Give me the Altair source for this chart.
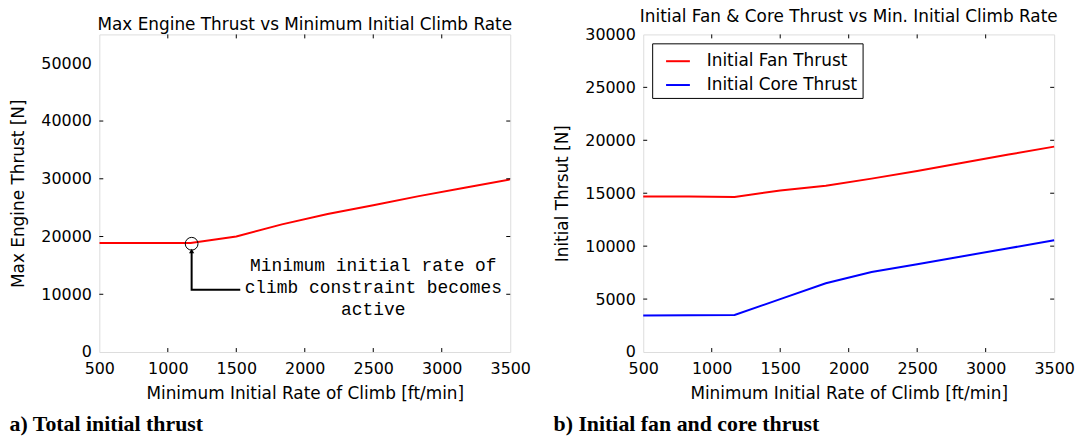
import altair as alt
import pandas as pd

# ---- data ----
climb_rate = [500, 833, 1167, 1500, 1833, 2167, 2500, 2833, 3167, 3500]
max_thrust = [18900, 18900, 18900, 20000, 22100, 23900, 25400, 27000, 28450, 29900]
fan_thrust = [14700, 14680, 14650, 15250, 15700, 16380, 17100, 17880, 18650, 19400]
core_thrust = [3440, 3470, 3500, 5000, 6500, 7550, 8300, 9050, 9800, 10550]
series_names = ["Initial Fan Thrust", "Initial Core Thrust"]
series_colors = ["#ff0000", "#0000ff"]

x_ticks = [500, 1000, 1500, 2000, 2500, 3000, 3500]
y_ticks_a = [0, 10000, 20000, 30000, 40000, 50000]
y_ticks_b = [0, 5000, 10000, 15000, 20000, 25000, 30000]

# annotation (data coordinates)
marker_x = [1174]
marker_y = [18750]
arrow_x = [1174, 1174, 1529]
arrow_y = [17300, 10800, 10800]
arrow_head_y = [17500]
note_lines = ["Minimum initial rate of", "climb constraint becomes", "active"]
note_x = [2500, 2500, 2500]
note_y = [14860, 11020, 7310]

W, H = 414, 320
FONT = "DejaVu Sans"
TICK = 4
XTITLE = "Minimum Initial Rate of Climb [ft/min]"

xscale = alt.Scale(domain=[500, 3500], nice=False, zero=False)


def axis_x():
    return alt.Axis(values=x_ticks, grid=False, ticks=False, domain=False,
                    labelFontSize=16, titleFontSize=17, labelFont=FONT, titleFont=FONT,
                    labelColor="black", titleColor="black", titleFontWeight="normal",
                    labelPadding=9, titlePadding=9, labelFlush=False, labelOverlap=False,
                    format="d")


def axis_y(vals):
    return alt.Axis(values=vals, grid=False, ticks=False, domain=False,
                    labelFontSize=16, titleFontSize=17, labelFont=FONT, titleFont=FONT,
                    labelColor="black", titleColor="black", titleFontWeight="normal",
                    labelPadding=8, titlePadding=13, labelFlush=False, labelOverlap=False,
                    format="d")


def X(field):
    return alt.X(f"{field}:Q", scale=xscale, axis=axis_x(), title=XTITLE)


def make_Y(yscale, yticks, ytitle):
    def Y(field):
        return alt.Y(f"{field}:Q", scale=yscale, axis=axis_y(yticks), title=ytitle)
    return Y


def tick_layers(Y, yticks):
    inner_x = pd.DataFrame({"t": x_ticks[1:-1]})
    inner_y = pd.DataFrame({"t": yticks[1:-1]})
    bx = alt.Chart(inner_x).mark_rule(color="black", strokeWidth=1).encode(
        x=X("t"), y=alt.value(H), y2=alt.value(H - TICK))
    tx = alt.Chart(inner_x).mark_rule(color="black", strokeWidth=1).encode(
        x=X("t"), y=alt.value(0), y2=alt.value(TICK))
    ly = alt.Chart(inner_y).mark_rule(color="black", strokeWidth=1).encode(
        y=Y("t"), x=alt.value(0), x2=alt.value(TICK))
    ry = alt.Chart(inner_y).mark_rule(color="black", strokeWidth=1).encode(
        y=Y("t"), x=alt.value(W), x2=alt.value(W - TICK))
    return [bx, tx, ly, ry]


def top_title(text):
    return alt.TitleParams(text, fontSize=17, font=FONT, fontWeight="normal",
                           color="black", anchor="middle", offset=0, frame="group")


def caption(text):
    return alt.TitleParams(text, orient="bottom", anchor="start", fontSize=22,
                           font="Liberation Serif", fontWeight="bold", color="black",
                           offset=12)


# ---- panel a ----
yscale_a = alt.Scale(domain=[0, 55000], nice=False)
Ya = make_Y(yscale_a, y_ticks_a, "Max Engine Thrust [N]")
df_a = pd.DataFrame({"rate": climb_rate, "thrust": max_thrust})
line_a = alt.Chart(df_a).mark_line(color="#ff0000", strokeWidth=2, clip=True).encode(
    x=X("rate"), y=Ya("thrust"))
circ = alt.Chart(pd.DataFrame({"x": marker_x, "y": marker_y})).mark_point(
    shape="circle", filled=False, color="black", size=165, strokeWidth=1, opacity=1).encode(
    x=X("x"), y=Ya("y"))
arrow = alt.Chart(pd.DataFrame({"x": arrow_x, "y": arrow_y, "o": [0, 1, 2]})).mark_line(
    color="black", strokeWidth=2).encode(x=X("x"), y=Ya("y"), order="o:O")
head = alt.Chart(pd.DataFrame({"x": marker_x, "y": arrow_head_y})).mark_point(
    shape="triangle-up", filled=True, color="black", size=28, opacity=1).encode(
    x=X("x"), y=Ya("y"))
note = alt.Chart(pd.DataFrame({"x": note_x, "y": note_y, "t": note_lines})).mark_text(
    font="Liberation Mono", fontSize=18, color="black", align="center", baseline="middle").encode(
    x=X("x"), y=Ya("y"), text="t:N")

panel_a = alt.layer(line_a, *tick_layers(Ya, y_ticks_a), arrow, head, circ, note).properties(
    width=W, height=H, title=top_title("Max Engine Thrust vs Minimum Initial Climb Rate"))

# ---- panel b ----
yscale_b = alt.Scale(domain=[0, 30000], nice=False)
Yb = make_Y(yscale_b, y_ticks_b, "Initial Thrsut [N]")
df_b = pd.DataFrame({
    "rate": climb_rate * 2,
    "thrust": fan_thrust + core_thrust,
    "series": [series_names[0]] * len(climb_rate) + [series_names[1]] * len(climb_rate),
})
line_b = alt.Chart(df_b).mark_line(strokeWidth=2).encode(
    x=X("rate"), y=Yb("thrust"),
    color=alt.Color("series:N", scale=alt.Scale(domain=series_names, range=series_colors),
                    sort=series_names,
                    legend=alt.Legend(title=None, orient="top-left", offset=9,
                                      strokeColor="black", fillColor="white", padding=5,
                                      symbolOffset=8,
                                      symbolType="stroke", symbolSize=576, symbolStrokeWidth=2,
                                      labelFontSize=17, labelFont=FONT, labelColor="black",
                                      labelOffset=16, rowPadding=3, cornerRadius=0)),
)
panel_b = alt.layer(line_b, *tick_layers(Yb, y_ticks_b)).properties(
    width=W, height=H, title=top_title("Initial Fan & Core Thrust vs Min. Initial Climb Rate"))

wrap_a = alt.vconcat(panel_a, title=caption("a) Total initial thrust"))
wrap_b = alt.vconcat(panel_b, title=caption("b) Initial fan and core thrust"))

chart = alt.hconcat(wrap_a, wrap_b, spacing=22).resolve_scale(
    color="independent").resolve_legend(color="independent").properties(
    padding={"left": 1, "top": -2, "right": 0, "bottom": 0}
).configure_view(stroke="black", strokeWidth=1).configure(background="white")

chart.save("out.html", embed_options={"renderer": "svg", "actions": False})
